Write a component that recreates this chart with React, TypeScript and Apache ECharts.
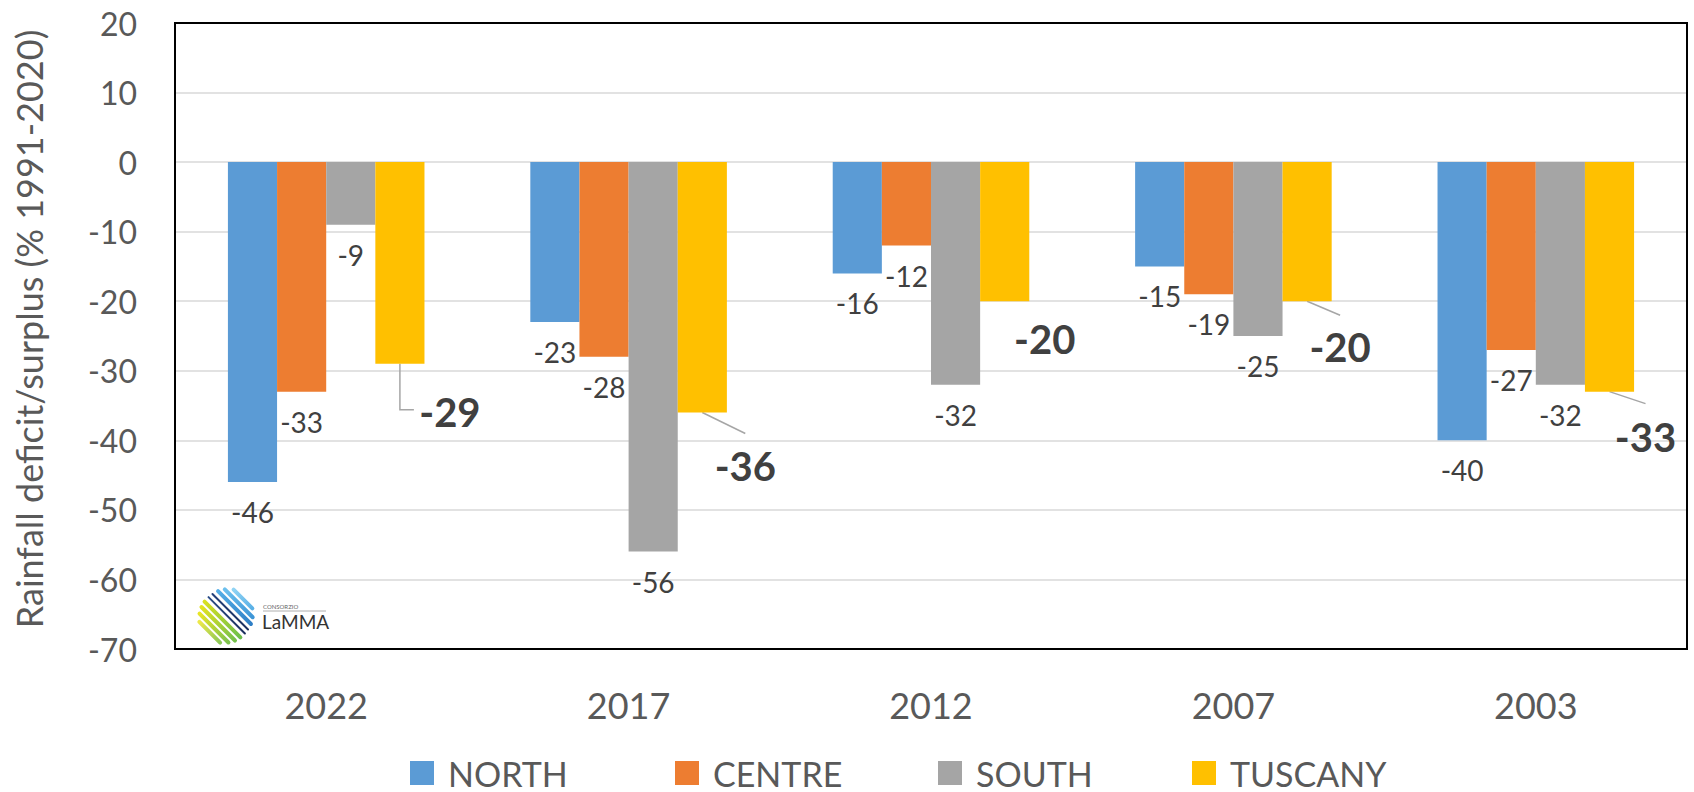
import React, { useEffect, useRef } from 'react';
import * as echarts from 'echarts';

// ---- data ----
const years = ['2022', '2017', '2012', '2007', '2003'];
const north = [-46, -23, -16, -15, -40];
const centre = [-33, -28, -12, -19, -27];
const south = [-9, -56, -32, -25, -32];
const tuscany = [-29, -36, -20, -20, -33];
const seriesNames = ['NORTH', 'CENTRE', 'SOUTH', 'TUSCANY'];
const yMin = -70;
const yMax = 20;
const yStep = 10;
const yAxisTitle = 'Rainfall deficit/surplus (% 1991-2020)';

// ---- layout / style ----
const colors = ['#5B9BD5', '#ED7D31', '#A5A5A5', '#FFC000'];
const FONT = 'Lato, "Open Sans", sans-serif';
const GRID = { left: 175, top: 23, width: 1512, height: 626 };
const BAR_CAT_GAP = 0.35;
// TUSCANY label centre offsets relative to the bar end (px)
const tuscanyLabelOffsets = [[50, 48], [43, 53], [40, 38], [33, 46], [36, 45]];
// leader line points relative to the bar end (px)
const tuscanyLeaders: number[][][] = [
  [[0, 0], [0, 46], [14, 46]],
  [[0, 0], [43, 21]],
  [],
  [[0, 0], [33, 14]],
  [[0, 0], [36, 12]],
];
const legendLefts = [410, 675, 938, 1192];

function logoGraphic() {
  const cx = 226, cy = 616, R = 28;
  const u = [Math.SQRT1_2, Math.SQRT1_2];
  const n = [Math.SQRT1_2, -Math.SQRT1_2];
  const stripes = [
    { d: 24, c1: '#8FD3F4', c2: '#5AB0E6', w: 4 },
    { d: 18, c1: '#6CC0EE', c2: '#3D95D6', w: 4 },
    { d: 12, c1: '#55AEE6', c2: '#2F7FC6', w: 4 },
    { d: 6, c1: '#23407A', c2: '#1B2F5E', w: 2 },
    { d: 1, c1: '#2A4D86', c2: '#1B2F5E', w: 2 },
    { d: -5, c1: '#D9E021', c2: '#6CBF4A', w: 4 },
    { d: -11, c1: '#E4E31F', c2: '#74C04B', w: 4 },
    { d: -17, c1: '#E8E526', c2: '#7DC24E', w: 4 },
    { d: -23, c1: '#EDE84A', c2: '#8BC757', w: 4 },
  ];
  const children: any[] = stripes.map((s) => {
    const h = Math.sqrt(R * R - s.d * s.d) * 0.92;
    const mx = cx + s.d * n[0];
    const my = cy + s.d * n[1];
    return {
      type: 'line',
      shape: { x1: mx - h * u[0], y1: my - h * u[1], x2: mx + h * u[0], y2: my + h * u[1] },
      style: {
        stroke: new echarts.graphic.LinearGradient(0, 0, 1, 1, [
          { offset: 0, color: s.c1 },
          { offset: 1, color: s.c2 },
        ]),
        lineWidth: s.w,
        lineCap: 'round',
      },
    };
  });
  children.push({
    type: 'text',
    x: 263, y: 603,
    style: { text: 'CONSORZIO', fontSize: 6, fill: '#666', fontFamily: FONT },
  });
  children.push({
    type: 'line',
    shape: { x1: 263, y1: 611, x2: 326, y2: 611 },
    style: { stroke: '#999', lineWidth: 0.8 },
  });
  children.push({
    type: 'text',
    x: 262, y: 612,
    style: { text: 'LaMMA', fontSize: 19, fill: '#333', fontFamily: FONT },
  });
  return { type: 'group', z: 50, children };
}

export default function App() {
  const ref = useRef<HTMLDivElement>(null);

  useEffect(() => {
    document.body.style.margin = '0';
    if (!ref.current) return;
    const chart = echarts.init(ref.current, null, { renderer: 'svg' });

    const regularLabel = {
      show: true,
      position: 'bottom',
      distance: 30,
      align: 'center',
      verticalAlign: 'middle',
      fontSize: 28,
      color: '#404040',
      fontFamily: FONT,
    };

    const barSeries: any[] = [north, centre, south].map((vals, i) => ({
      type: 'bar',
      name: seriesNames[i],
      data: vals,
      barGap: '0%',
      barCategoryGap: `${BAR_CAT_GAP * 100}%`,
      itemStyle: { color: colors[i] },
      label: regularLabel,
    }));

    barSeries.push({
      type: 'bar',
      name: seriesNames[3],
      data: tuscany.map((v, i) => ({ value: v, label: { offset: tuscanyLabelOffsets[i] } })),
      barGap: '0%',
      barCategoryGap: `${BAR_CAT_GAP * 100}%`,
      itemStyle: { color: colors[3] },
      label: {
        show: true,
        position: 'bottom',
        distance: 0,
        align: 'center',
        verticalAlign: 'middle',
        fontSize: 40,
        fontWeight: 'bold',
        color: '#404040',
        fontFamily: FONT,
      },
    });

    barSeries.push({
      type: 'custom',
      silent: true,
      z: 1,
      data: tuscany.map((v, i) => [i, v]),
      renderItem: (params: any, api: any) => {
        const i = params.dataIndex;
        const pts = tuscanyLeaders[i];
        if (!pts || !pts.length) return { type: 'group', children: [] };
        const base = api.coord([api.value(0), api.value(1)]);
        const catW = api.size([1, 0])[0];
        const bw = (catW * (1 - BAR_CAT_GAP)) / 4;
        const x0 = base[0] + 1.5 * bw;
        return {
          type: 'polyline',
          shape: { points: pts.map((p) => [x0 + p[0], base[1] + p[1]]) },
          style: { stroke: '#A6A6A6', lineWidth: 1.5, fill: null },
        };
      },
    });

    const legends = seriesNames.map((name, i) => ({
      data: [name],
      left: legendLefts[i],
      top: 756,
      padding: 0,
      itemGap: 0,
      itemWidth: 24,
      itemHeight: 24,
      icon: 'rect',
      selectedMode: false,
      textStyle: {
        fontSize: 34,
        lineHeight: 34,
        color: '#595959',
        fontFamily: FONT,
        padding: [0, 0, 0, 9],
      },
    }));

    chart.setOption({
      animation: false,
      backgroundColor: '#ffffff',
      textStyle: { fontFamily: FONT },
      grid: { ...GRID, containLabel: false },
      legend: legends,
      xAxis: {
        type: 'category',
        data: years,
        axisLine: { show: false },
        axisTick: { show: false },
        axisLabel: { fontSize: 36, color: '#595959', margin: 38, fontFamily: FONT },
        splitLine: { show: false },
      },
      yAxis: {
        type: 'value',
        min: yMin,
        max: yMax,
        interval: yStep,
        axisLine: { show: false },
        axisTick: { show: false },
        axisLabel: { fontSize: 32, color: '#595959', margin: 38, fontFamily: FONT },
        splitLine: { lineStyle: { color: '#D9D9D9', width: 1.5 } },
      },
      graphic: [
        {
          type: 'rect',
          z: 100,
          shape: { x: GRID.left, y: GRID.top, width: GRID.width, height: GRID.height },
          style: { fill: 'none', stroke: '#000', lineWidth: 2 },
          silent: true,
        },
        {
          type: 'text',
          x: 29,
          y: 329,
          rotation: Math.PI / 2,
          style: {
            text: yAxisTitle,
            fontSize: 36,
            fill: '#595959',
            fontFamily: FONT,
            align: 'center',
            verticalAlign: 'middle',
          },
        },
        logoGraphic(),
      ],
      series: barSeries,
    });

    return () => chart.dispose();
  }, []);

  return <div ref={ref} style={{ width: 1694, height: 792 }} />;
}
